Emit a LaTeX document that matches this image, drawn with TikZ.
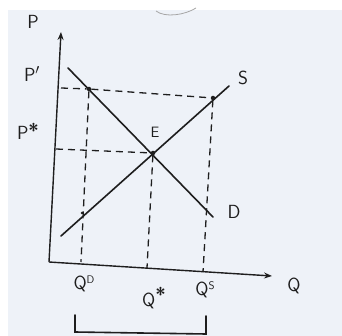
\documentclass[tikz,border=0pt]{standalone}
\usetikzlibrary{arrows.meta}
\definecolor{paper}{HTML}{EEF2F8}
\definecolor{ink}{HTML}{1E1E1E}
\begin{document}
\begin{tikzpicture}[x=1pt,y=-1pt,
  curve/.style={ink,line width=1.6pt,line cap=round},
  axis/.style={ink,line width=1.4pt,-{Stealth[length=8pt,width=6pt]}},
  guide/.style={ink,line width=1.3pt,dash pattern=on 7pt off 5pt},
  lbl/.style={ink,font=\sffamily\fontsize{19}{19}\selectfont,inner sep=0pt},
  small/.style={ink,font=\sffamily\fontsize{15}{15}\selectfont,inner sep=0pt},
  dot/.style={circle,fill=ink,inner sep=0pt,minimum size=4.5pt}]
\fill[white] (0,0) rectangle (342,336);
\fill[paper] (8,10) rectangle (342,336);
\useasboundingbox (0,0) rectangle (342,336);
% stray scribble at top
\draw[gray!70,line width=0.8pt] (156,11) .. controls (165,18) and (185,15) .. (196,8);
% axes
\coordinate (O) at (49,262);
\coordinate (Ptop) at (61,32);
\coordinate (Qend) at (272,276);
\draw[axis] (O) -- (Ptop);
\draw[axis] (O) -- (Qend);
% curves
\coordinate (D1) at (68,68);
\coordinate (D2) at (213,217);
\coordinate (S1) at (61,236);
\coordinate (S2) at (229,86);
\draw[curve] (D1) -- (D2);
\draw[curve] (S1) -- (S2);
% key points
\node[dot] (E) at (153,153) {};
\node[dot] (A) at (89,89) {};
\node[dot] (B) at (213,98) {};
\node[dot,minimum size=3pt] (C) at (82,213) {};
% guide lines
\coordinate (Py1) at (61,88);
\coordinate (Py2) at (56,149);
\coordinate (QDb) at (81,262);
\coordinate (QEb) at (147,268);
\coordinate (QSb) at (203,272);
\draw[guide] (Py1) -- (A) -- (B);
\draw[guide] (Py2) -- (E);
\draw[guide] (A) -- (QDb);
\draw[guide] (E) -- (QEb);
\draw[guide] (B) -- (QSb);
% labels
\node[lbl] (lP) at (33,22) {P};
\node[lbl] (lP1) at (32,74) {P$'$};
\node[lbl] (lPs) at (28,131) {P\raisebox{2pt}{\bfseries *}};
\node[small] (lE) at (155,132) {E};
\node[lbl] (lS) at (243,78) {S};
\node[lbl] (lD) at (234,212) {D};
\node[lbl] (lQD) at (84,284) {Q\raisebox{6pt}{\fontsize{11}{11}\selectfont D}};
\node[lbl] (lQE) at (154,298) {Q\raisebox{5pt}{\bfseries *}};
\node[lbl] (lQS) at (205,290) {Q\raisebox{6pt}{\fontsize{11}{11}\selectfont S}};
\node[lbl] (lQ) at (294,286) {Q};
% bracket
\coordinate (b1) at (75,315);
\coordinate (b2) at (75,332);
\coordinate (b3) at (206,334);
\coordinate (b4) at (206,316);
\draw[curve] (b1) -- (b2) -- (b3) -- (b4);
\end{tikzpicture}
\end{document}
